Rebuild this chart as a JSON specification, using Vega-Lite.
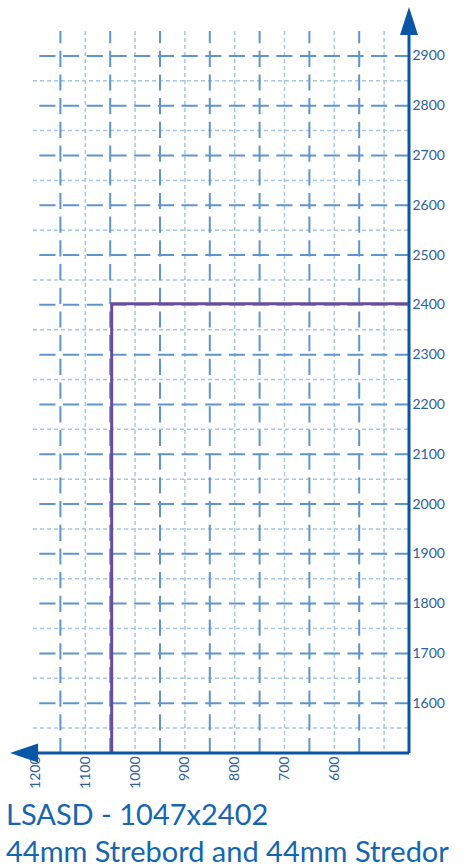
{
  "$schema": "https://vega.github.io/schema/vega-lite/v6.json",
  "width": 376,
  "height": 722,
  "autosize": {"type": "none"},
  "padding": {"left": 33, "top": 31, "right": 56, "bottom": 114},
  "background": "white",
  "config": {
    "view": {"stroke": null},
    "font": "Lato",
    "axisX": {
      "orient": "bottom",
      "title": null,
      "domain": false,
      "ticks": false,
      "grid": false,
      "labelAngle": 270,
      "labelFont": "Lato",
      "labelFontSize": 14,
      "labelColor": "#2d5e9e",
      "labelPadding": 3,
      "labelFlush": false,
      "labelOverlap": false
    },
    "axisY": {
      "orient": "right",
      "title": null,
      "domain": false,
      "ticks": false,
      "grid": false,
      "labelFont": "Lato",
      "labelFontSize": 14,
      "labelColor": "#2d5e9e",
      "labelPadding": 3,
      "labelFlush": false,
      "labelOverlap": false
    }
  },
  "title": {
    "text": ["LSASD - 1047x2402", "44mm Strebord and 44mm Stredor"],
    "orient": "bottom",
    "anchor": "start",
    "frame": "group",
    "font": "Lato",
    "fontSize": 29,
    "fontWeight": "normal",
    "color": "#1565b0",
    "lineHeight": 37,
    "dx": -27,
    "offset": 14
  },
  "datasets": {
    "hMajor": [{"y": 1600}, {"y": 1700}, {"y": 1800}, {"y": 1900}, {"y": 2000}, {"y": 2100}, {"y": 2200}, {"y": 2300}, {"y": 2400}, {"y": 2500}, {"y": 2600}, {"y": 2700}, {"y": 2800}, {"y": 2900}],
    "hMinor": [{"y": 1550}, {"y": 1650}, {"y": 1750}, {"y": 1850}, {"y": 1950}, {"y": 2050}, {"y": 2150}, {"y": 2250}, {"y": 2350}, {"y": 2450}, {"y": 2550}, {"y": 2650}, {"y": 2750}, {"y": 2850}],
    "vMajor": [{"x": 1150}, {"x": 1050}, {"x": 950}, {"x": 850}, {"x": 750}, {"x": 650}, {"x": 550}],
    "vMinor": [{"x": 1100}, {"x": 1000}, {"x": 900}, {"x": 800}, {"x": 700}, {"x": 600}, {"x": 500}],
    "outline": [{"seq": 1, "x": 1047, "y": 1500}, {"seq": 2, "x": 1047, "y": 2402}, {"seq": 3, "x": 450, "y": 2402}],
    "axisLines": [{"x": 450, "y": 1500, "x2": 450, "y2": 2950}, {"x": 1215, "y": 1500, "x2": 450, "y2": 1500}],
    "arrows": [{"x": 450, "y": 2970, "dir": "up"}, {"x": 1223, "y": 1500, "dir": "left"}]
  },
  "layer": [
    {
      "data": {"name": "hMinor"},
      "mark": {"type": "rule", "color": "#a7c6e6", "strokeWidth": 1.5, "strokeDash": [4, 3]},
      "encoding": {
        "x": {
          "datum": 1205,
          "type": "quantitative",
          "scale": {"domain": [450, 1205], "reverse": true, "nice": false, "zero": false},
          "axis": {"values": [1200, 1100, 1000, 900, 800, 700, 600], "title": null, "format": "d"}
        },
        "x2": {"datum": 450},
        "y": {
          "field": "y",
          "type": "quantitative",
          "scale": {"domain": [1500, 2950], "nice": false, "zero": false},
          "axis": {"values": [1600, 1700, 1800, 1900, 2000, 2100, 2200, 2300, 2400, 2500, 2600, 2700, 2800, 2900], "title": null, "format": "d"}
        }
      }
    },
    {
      "data": {"name": "vMinor"},
      "mark": {"type": "rule", "color": "#a7c6e6", "strokeWidth": 1.5, "strokeDash": [4, 3]},
      "encoding": {
        "x": {"field": "x", "type": "quantitative", "axis": {"values": [1200, 1100, 1000, 900, 800, 700, 600], "title": null, "format": "d"}},
        "y": {"datum": 2950, "type": "quantitative", "axis": {"values": [1600, 1700, 1800, 1900, 2000, 2100, 2200, 2300, 2400, 2500, 2600, 2700, 2800, 2900], "title": null, "format": "d"}},
        "y2": {"datum": 1500}
      }
    },
    {
      "data": {"name": "hMajor"},
      "mark": {"type": "rule", "color": "#5f95cf", "strokeWidth": 2, "strokeDash": [16.2, 7.5], "strokeDashOffset": 17.4},
      "encoding": {
        "x": {"datum": 1205, "type": "quantitative", "axis": {"values": [1200, 1100, 1000, 900, 800, 700, 600], "title": null, "format": "d"}},
        "x2": {"datum": 450},
        "y": {"field": "y", "type": "quantitative", "axis": {"values": [1600, 1700, 1800, 1900, 2000, 2100, 2200, 2300, 2400, 2500, 2600, 2700, 2800, 2900], "title": null, "format": "d"}}
      }
    },
    {
      "data": {"name": "vMajor"},
      "mark": {"type": "rule", "color": "#5f95cf", "strokeWidth": 2, "strokeDash": [16.2, 7.5], "strokeDashOffset": 4},
      "encoding": {
        "x": {"field": "x", "type": "quantitative", "axis": {"values": [1200, 1100, 1000, 900, 800, 700, 600], "title": null, "format": "d"}},
        "y": {"datum": 2950, "type": "quantitative", "axis": {"values": [1600, 1700, 1800, 1900, 2000, 2100, 2200, 2300, 2400, 2500, 2600, 2700, 2800, 2900], "title": null, "format": "d"}},
        "y2": {"datum": 1500}
      }
    },
    {
      "data": {"name": "outline"},
      "mark": {"type": "line", "color": "#6a4c9c", "strokeWidth": 3},
      "encoding": {
        "x": {"field": "x", "type": "quantitative", "axis": {"values": [1200, 1100, 1000, 900, 800, 700, 600], "title": null, "format": "d"}},
        "y": {"field": "y", "type": "quantitative", "axis": {"values": [1600, 1700, 1800, 1900, 2000, 2100, 2200, 2300, 2400, 2500, 2600, 2700, 2800, 2900], "title": null, "format": "d"}},
        "order": {"field": "seq", "type": "quantitative"}
      }
    },
    {
      "data": {"name": "axisLines"},
      "mark": {"type": "rule", "color": "#0a56a6", "strokeWidth": 3},
      "encoding": {
        "x": {"field": "x", "type": "quantitative", "axis": {"values": [1200, 1100, 1000, 900, 800, 700, 600], "title": null, "format": "d"}},
        "x2": {"field": "x2"},
        "y": {"field": "y", "type": "quantitative", "axis": {"values": [1600, 1700, 1800, 1900, 2000, 2100, 2200, 2300, 2400, 2500, 2600, 2700, 2800, 2900], "title": null, "format": "d"}},
        "y2": {"field": "y2"}
      }
    },
    {
      "data": {"name": "arrows"},
      "mark": {"type": "point", "filled": true, "color": "#0a56a6", "opacity": 1, "size": 784},
      "encoding": {
        "x": {"field": "x", "type": "quantitative", "axis": {"values": [1200, 1100, 1000, 900, 800, 700, 600], "title": null, "format": "d"}},
        "y": {"field": "y", "type": "quantitative", "axis": {"values": [1600, 1700, 1800, 1900, 2000, 2100, 2200, 2300, 2400, 2500, 2600, 2700, 2800, 2900], "title": null, "format": "d"}},
        "shape": {
          "field": "dir",
          "type": "nominal",
          "scale": {"domain": ["up", "left"], "range": ["M0,-1L0.643,1L-0.643,1Z", "M-1,0L1,-0.68L1,0.68Z"]},
          "legend": null
        }
      }
    }
  ]
}
